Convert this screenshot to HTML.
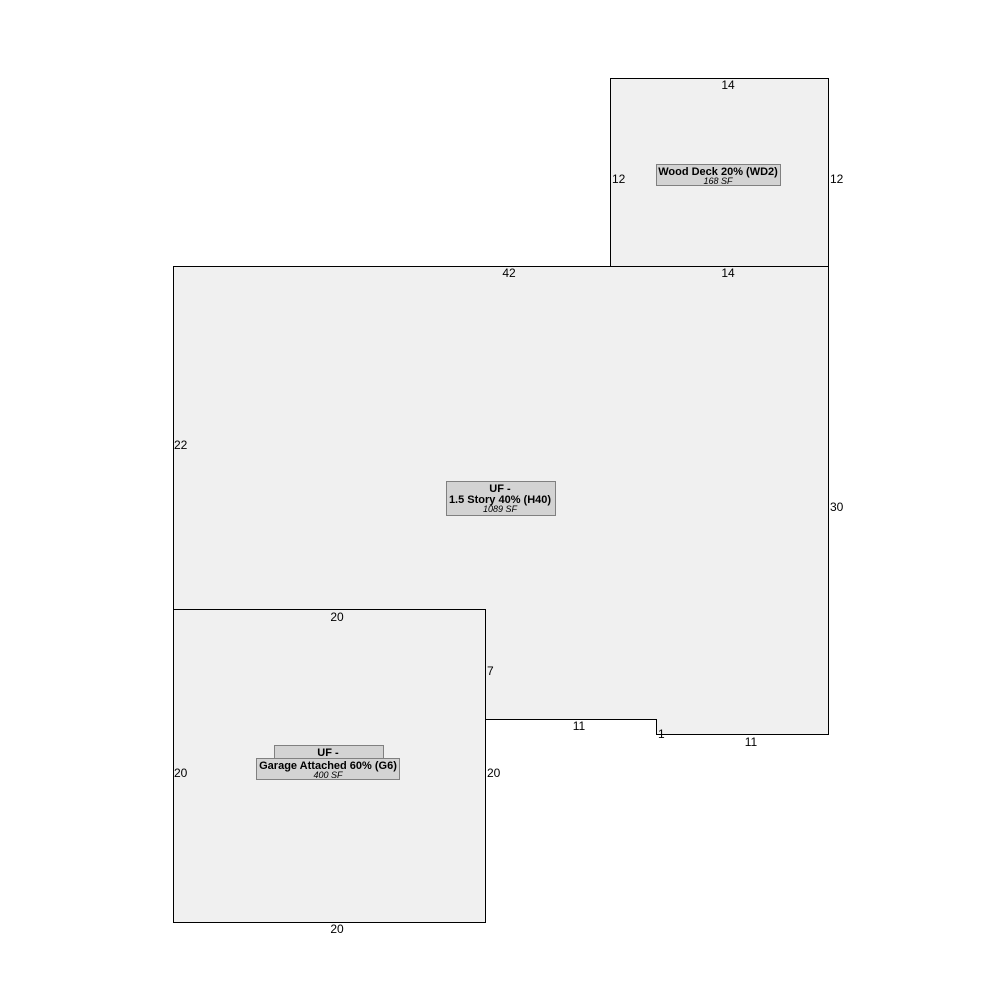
<!DOCTYPE html>
<html><head><meta charset="utf-8"><style>
html,body{margin:0;padding:0;background:#fff;}
svg text{font-family:"Liberation Sans",Arial,sans-serif;font-size:12px;fill:#000;}
.b{font-weight:bold;font-size:11px;}
.i{font-style:italic;font-size:9px;}
</style></head><body>
<svg width="1000" height="1000" viewBox="0 0 1000 1000" xmlns="http://www.w3.org/2000/svg">
<rect width="1000" height="1000" fill="#fff"/>
<!-- deck -->
<rect x="610.5" y="78.5" width="218" height="188" fill="#f0f0f0" stroke="#000" stroke-width="1"/>
<!-- main -->
<polygon points="173.5,266.5 828.5,266.5 828.5,734.5 656.5,734.5 656.5,719.5 485.5,719.5 485.5,609.5 173.5,609.5" fill="#f0f0f0" stroke="#000" stroke-width="1"/>
<!-- garage -->
<rect x="173.5" y="609.5" width="312" height="313" fill="#f0f0f0" stroke="#000" stroke-width="1"/>

<!-- labels -->
<rect x="656.5" y="164.5" width="124" height="21" fill="#d3d3d3" stroke="#808080"/>
<text x="718" y="175" text-anchor="middle" class="b">Wood Deck 20% (WD2)</text>
<text x="718" y="184" text-anchor="middle" class="i">168 SF</text>

<rect x="446.5" y="481.5" width="109" height="34" fill="#d3d3d3" stroke="#808080"/>
<text x="500" y="492" text-anchor="middle" class="b">UF -</text>
<text x="500" y="503" text-anchor="middle" class="b">1.5 Story 40% (H40)</text>
<text x="500" y="512" text-anchor="middle" class="i">1089 SF</text>

<rect x="274.5" y="745.5" width="109" height="34" fill="#d3d3d3" stroke="#808080"/>
<rect x="256.5" y="758.5" width="143" height="21" fill="#d3d3d3" stroke="#808080"/>
<text x="328" y="756" text-anchor="middle" class="b">UF -</text>
<text x="328" y="769" text-anchor="middle" class="b">Garage Attached 60% (G6)</text>
<text x="328" y="778" text-anchor="middle" class="i">400 SF</text>

<!-- dimensions -->
<text x="728" y="89" text-anchor="middle">14</text>
<text x="612" y="183">12</text>
<text x="830" y="183">12</text>
<text x="728" y="277" text-anchor="middle">14</text>
<text x="509" y="277" text-anchor="middle">42</text>
<text x="174" y="449">22</text>
<text x="830" y="511">30</text>
<text x="337" y="621" text-anchor="middle">20</text>
<text x="487" y="675">7</text>
<text x="579" y="730" text-anchor="middle">11</text>
<text x="658" y="738">1</text>
<text x="751" y="746" text-anchor="middle">11</text>
<text x="174" y="777">20</text>
<text x="487" y="777">20</text>
<text x="337" y="933" text-anchor="middle">20</text>
</svg>
</body></html>
